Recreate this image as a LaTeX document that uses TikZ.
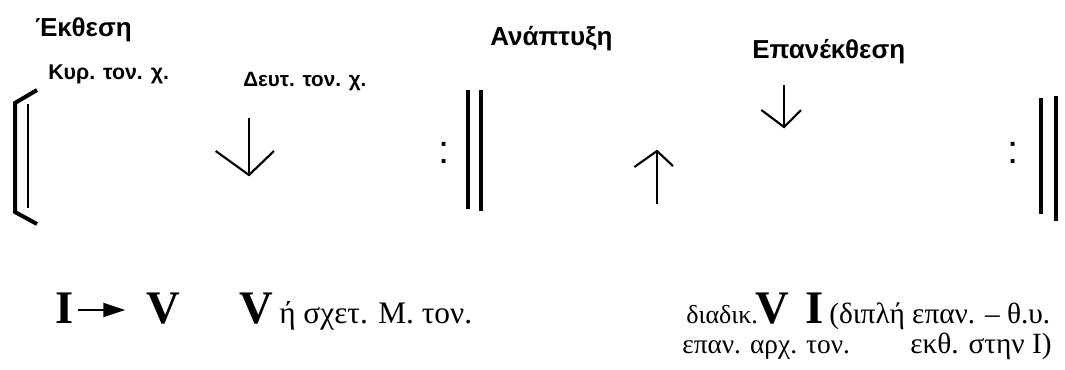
\documentclass[tikz,border=0pt]{standalone}
\usepackage{fontspec}
\setmainfont{Liberation Serif}
\newfontfamily\arialf{Liberation Sans}
\usetikzlibrary{arrows.meta}
\begin{document}
\begin{tikzpicture}[x=0.75pt,y=-0.75pt,
  title/.style={font=\arialf\bfseries\fontsize{19.5}{22}\selectfont, anchor=base west, inner sep=0pt},
  subb/.style={font=\arialf\bfseries\fontsize{16}{18}\selectfont, anchor=base west, inner sep=0pt},
  colon/.style={font=\arialf\fontsize{30}{32}\selectfont, anchor=base west, inner sep=0pt},
  big/.style={font=\bfseries\fontsize{35}{40}\selectfont, anchor=base west, inner sep=0pt},
  txt/.style={font=\fontsize{22}{26}\selectfont, anchor=base west, inner sep=0pt},
  barline/.style={line width=2.3pt},
  arrline/.style={line width=1.6pt},
]
\useasboundingbox (0,0) rectangle (1065,369);

% titles
\node[title] (t1) at (35,36) {Έκθεση};
\node[title] (t2) at (490,45) {Ανάπτυξη};
\node[title] (t3) at (752,58) {Επανέκθεση};
\node[subb] (s1) at (48,79) {Κυρ. τον. χ.};
\node[subb, font=\arialf\bfseries\fontsize{15.5}{18}\selectfont] (s2) at (243,86) {Δευτ. τον. χ.};

% opening bracket
\draw[line width=3pt] (37,90) -- (15,103) -- (15,212) -- (37,224);
\draw[line width=1.8pt] (28,104) -- (28,208);

% down arrow 1
\coordinate (d1a) at (249,118);
\coordinate (d1b) at (249,175);
\draw[arrline] (d1a) -- (d1b);
\draw[arrline, line join=miter] ([xshift=-25]d1b) ++(0,-24) -- (d1b) -- ++(25,-24);

% first repeat bar
\node[colon] (c1) at (438,163) {:};
\draw[barline] (468,90) -- (468,209);
\draw[barline] (481,90) -- (481,211);

% up arrow
\coordinate (u1a) at (657,204);
\coordinate (u1b) at (657,151);
\draw[arrline] (u1a) -- (u1b);
\draw[arrline] ([xshift=-17]u1b) ++(0,16) -- (u1b) -- ++(16,15);

% down arrow 2
\coordinate (d2a) at (784,85);
\coordinate (d2b) at (784,127);
\draw[arrline] (d2a) -- (d2b);
\draw[arrline] ([xshift=-17]d2b) ++(0,-17) -- (d2b) -- ++(17,-17);

% final repeat bar
\node[colon] (c2) at (1007,163) {:};
\draw[barline] (1041,98) -- (1041,214);
\draw[barline] (1056,96) -- (1056,221);

% bottom texts
\node[big] (I1) at (55,323) {I};
\node[big] (V1) at (146,323) {V};
\path (I1.base east) ++(4,-13) coordinate (ia);
\draw[line width=1.5pt, -{Triangle[length=16.5pt,width=10.5pt]}, shorten >=15.5pt] (ia) -- (ia -| V1.west);
\node[big] (V2) at (239,323) {V};
\node[txt, font=\fontsize{23.5}{26}\selectfont] (x1) at (279,323) {ή σχετ. Μ. τον.};

\node[txt, font=\fontsize{19.5}{26}\selectfont] (x2) at (686,323) {διαδικ.};
\node[big] (V3) at (755,323) {V};
\node[big] (I2) at (805,323) {I};
\node[txt] (x3) at (829,323) {(διπλή επαν. – θ.υ.};
\node[txt, font=\fontsize{20.5}{26}\selectfont] (x4) at (682,353) {επαν. αρχ. τον.};
\node[txt] (x5) at (910,353) {εκθ. στην I)};
\end{tikzpicture}
\end{document}
